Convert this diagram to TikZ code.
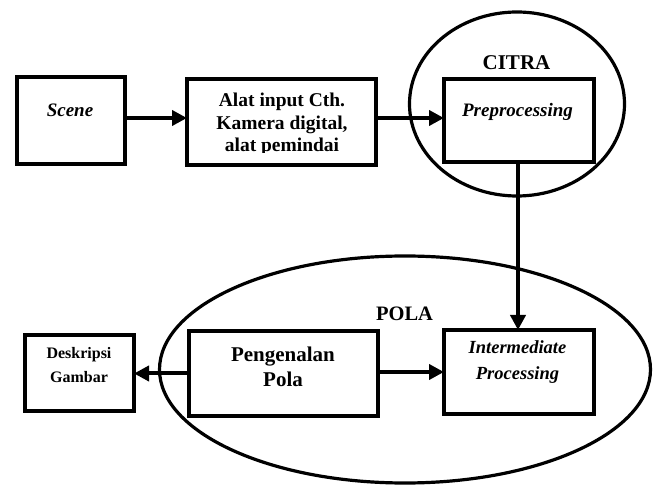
\documentclass[tikz,border=0pt]{standalone}
\usepackage{fontspec}
\setmainfont{Liberation Serif}
\usetikzlibrary{arrows.meta}
\begin{document}
\begin{tikzpicture}[x=1pt,y=-1pt,
  box/.style={draw, line width=4pt, inner sep=0pt, outer sep=0pt},
  ell/.style={draw, line width=3.2pt},
  arr/.style={line width=4pt, -{Triangle[length=15pt,width=15pt]}},
  lbl/.style={anchor=base, inner sep=0pt},
  bigb/.style={lbl, font=\fontsize{19.5}{23}\selectfont\bfseries},
  bigi/.style={lbl, font=\fontsize{19}{23}\selectfont\bfseries\itshape},
  hugeb/.style={lbl, font=\fontsize{21}{24}\selectfont\bfseries},
  smallb/.style={lbl, font=\fontsize{16}{20}\selectfont\bfseries}]
\useasboundingbox (0,0) rectangle (657,486);

% ellipses
\draw[ell] (517,104) ellipse [x radius=107.5pt, y radius=92pt];
\draw[ell] (405,369.5) ellipse [x radius=245.5pt, y radius=113.5pt];

% boxes
\node[box, minimum width=108pt, minimum height=87pt] (scene) at (71,120.5) {};
\node[box, minimum width=189pt, minimum height=86pt] (alat) at (281.5,122) {};
\node[box, minimum width=150pt, minimum height=83pt] (pre) at (519,120.5) {};
\node[box, minimum width=150pt, minimum height=84pt] (inter) at (519,372) {};
\node[box, minimum width=189pt, minimum height=85pt] (peng) at (283.5,373.5) {};
\node[box, minimum width=109pt, minimum height=76pt] (desk) at (79.5,373) {};

% texts
\node[bigi] (tscene) at (70,117) {Scene};
\node[bigb] (talat1) at (282,107) {Alat input Cth.};
\node[bigb] (talat2) at (282,130) {Kamera digital,};
\begin{scope}
  \clip (189,80) rectangle (374,152.5);
  \node[bigb] (talat3) at (282,152) {alat pemindai};
\end{scope}
\node[bigb, font=\fontsize{21}{24}\selectfont\bfseries] (citra) at (516.5,70) {CITRA};
\node[bigi] (tpre) at (517.5,117) {Preprocessing};
\node[hugeb, font=\fontsize{20.5}{24}\selectfont\bfseries] (pola) at (404.5,321) {POLA};
\node[bigi, font=\fontsize{18.5}{23}\selectfont\bfseries\itshape] (tinter1) at (517.5,354) {Intermediate};
\node[bigi, font=\fontsize{18.5}{23}\selectfont\bfseries\itshape] (tinter2) at (517.5,380) {Processing};
\node[hugeb] (tpeng1) at (283,362) {Pengenalan};
\node[hugeb] (tpeng2) at (283,387) {Pola};
\node[smallb] (tdesk1) at (79,359) {Deskripsi};
\node[smallb] (tdesk2) at (79,383) {Gambar};

% connectors
\draw[arr] ([yshift=2.5pt]scene.east) -- ([yshift=2.5pt]scene.east -| alat.west);
\draw[arr] ([yshift=4pt]alat.east) -- ([yshift=4pt]alat.east -| pre.west);
\draw[arr] ([xshift=-1pt]pre.south) -- ([xshift=-1pt]inter.north);
\draw[arr] (peng.east |- inter.west) -- (inter.west);
\draw[arr] (peng.west) -- (peng.west -| desk.east);
\end{tikzpicture}
\end{document}
